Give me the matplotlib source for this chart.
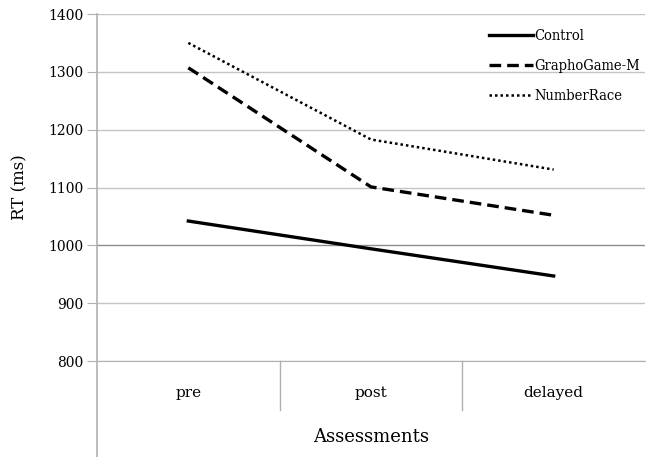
import matplotlib.pyplot as plt
from matplotlib.lines import Line2D

assessments = ['pre', 'post', 'delayed']
control = [1042, 994, 947]
graphogame = [1307, 1101, 1052]
numberrace = [1350, 1183, 1131]
y_ticks = [800, 900, 1000, 1100, 1200, 1300, 1400]

plt.rcParams['font.family'] = ['DejaVu Serif']

fig = plt.figure(figsize=(6.47, 4.57), dpi=100)
W, H = 647, 457
ax = fig.add_axes([97 / W, 1 - 361 / H, 548 / W, (361 - 14) / H])

x = list(range(len(assessments)))
ax.plot(x, control, color='black', lw=2.4, label='Control')
ax.plot(x, graphogame, color='black', lw=2.4, ls=(0, (3.5, 1.8)), label='GraphoGame-M')
ax.plot(x, numberrace, color='black', lw=1.8, ls=(0, (1, 1.2)), label='NumberRace')

ax.set_xlim(-0.5, 2.5)
ax.set_ylim(800, 1400)
ax.set_yticks(y_ticks)
ax.set_yticklabels([str(v) for v in y_ticks], fontsize=10)
for v in y_ticks:
    c = '#8c8c8c' if v == 1000 else '#c4c4c4'
    ax.axhline(v, color=c, lw=1, zorder=0)

ax.tick_params(axis='y', length=7, color='#b0b0b0', pad=3)
ax.set_xticks(x)
ax.set_xticklabels(assessments, fontsize=11)
ax.tick_params(axis='x', length=0, pad=18)
for s in ['top', 'right']:
    ax.spines[s].set_visible(False)
ax.spines['bottom'].set_color('#b0b0b0')
ax.spines['left'].set_visible(False)

# left axis line running to the bottom of the figure
fig.add_artist(Line2D([97 / W, 97 / W], [0, 1 - 14 / H], color='#b0b0b0', lw=1.2))
# category separators
for b in [0.5, 1.5]:
    ax.plot([b, b], [0, -0.14], transform=ax.get_xaxis_transform(),
            color='#b0b0b0', lw=1, clip_on=False)

ax.set_ylabel('RT (ms)', fontsize=12)
ax.yaxis.set_label_coords(-0.125, 0.5)
fig.text(371 / W, 1 - 437 / H, 'Assessments', fontsize=13, ha='center', va='center')

leg = ax.legend(loc='upper right', bbox_to_anchor=(1.015, 0.995), frameon=False,
                handlelength=3.0, handletextpad=0.1, labelspacing=1.1,
                prop={'family': 'DejaVu Serif', 'stretch': 'condensed', 'size': 10.5})

fig.savefig('out.png', dpi=100)
